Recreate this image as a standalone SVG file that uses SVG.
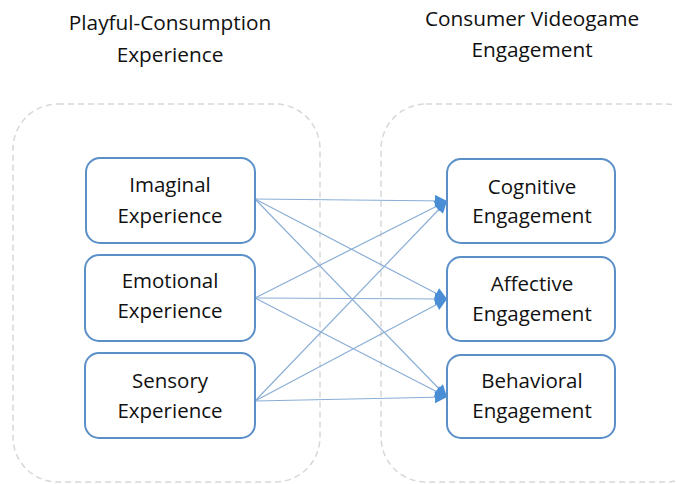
<svg xmlns="http://www.w3.org/2000/svg" width="676" height="484" viewBox="0 0 676 484">
<defs>
<style>
.title{font-family:"Open Sans","Liberation Sans",sans-serif;font-size:20.8px;fill:#111111;text-anchor:middle}
.lbl{font-family:"Open Sans","Liberation Sans",sans-serif;font-size:20.5px;fill:#111111;text-anchor:middle}
.box{fill:#ffffff;stroke:#5b8fc7;stroke-width:2}
.cont{fill:none;stroke:#d8d8d8;stroke-width:1.5;stroke-dasharray:6 4}
.conn{stroke:#8aaed6;stroke-width:1.2;fill:none}
</style>
<marker id="arr" viewBox="0 0 10 10" refX="10" refY="5" markerWidth="14" markerHeight="12" markerUnits="userSpaceOnUse" orient="auto">
<path d="M0,0 L10,5 L0,10 z" fill="#4a8ed6"/>
</marker>
</defs>
<rect width="676" height="484" fill="#ffffff"/>
<g id="containers">
<rect class="cont" x="13" y="104" width="307" height="378" rx="45"/>
<rect class="cont" x="381" y="104" width="330" height="378" rx="45"/>
</g>
<g id="titles">
<text class="title" x="170" y="30">Playful-Consumption</text>
<text class="title" x="170" y="62">Experience</text>
<text class="title" x="532" y="26">Consumer Videogame</text>
<text class="title" x="532" y="57">Engagement</text>
</g>
<g id="connectors">
<line class="conn" x1="255" y1="199" x2="447" y2="201" marker-end="url(#arr)"/>
<line class="conn" x1="255" y1="199" x2="447" y2="299" marker-end="url(#arr)"/>
<line class="conn" x1="255" y1="199" x2="447" y2="397" marker-end="url(#arr)"/>
<line class="conn" x1="255" y1="298" x2="447" y2="201" marker-end="url(#arr)"/>
<line class="conn" x1="255" y1="298" x2="447" y2="299" marker-end="url(#arr)"/>
<line class="conn" x1="255" y1="298" x2="447" y2="397" marker-end="url(#arr)"/>
<line class="conn" x1="255" y1="401" x2="447" y2="201" marker-end="url(#arr)"/>
<line class="conn" x1="255" y1="401" x2="447" y2="299" marker-end="url(#arr)"/>
<line class="conn" x1="255" y1="401" x2="447" y2="397" marker-end="url(#arr)"/>
</g>
<g id="imaginal">
<rect class="box" x="86" y="158" width="169" height="85" rx="14"/>
<text class="lbl" x="170" y="192">Imaginal</text>
<text class="lbl" x="170" y="223">Experience</text>
</g>
<g id="emotional">
<rect class="box" x="85" y="255" width="170" height="86" rx="14"/>
<text class="lbl" x="170" y="288">Emotional</text>
<text class="lbl" x="170" y="318">Experience</text>
</g>
<g id="sensory">
<rect class="box" x="85" y="353" width="170" height="85" rx="14"/>
<text class="lbl" x="170" y="388">Sensory</text>
<text class="lbl" x="170" y="418">Experience</text>
</g>
<g id="cognitive">
<rect class="box" x="447" y="159" width="168" height="84" rx="14"/>
<text class="lbl" x="532" y="194">Cognitive</text>
<text class="lbl" x="532" y="223">Engagement</text>
</g>
<g id="affective">
<rect class="box" x="447" y="257" width="168" height="84" rx="14"/>
<text class="lbl" x="532" y="291">Affective</text>
<text class="lbl" x="532" y="321">Engagement</text>
</g>
<g id="behavioral">
<rect class="box" x="447" y="355" width="168" height="83" rx="14"/>
<text class="lbl" x="532" y="388">Behavioral</text>
<text class="lbl" x="532" y="418">Engagement</text>
</g>
</svg>
